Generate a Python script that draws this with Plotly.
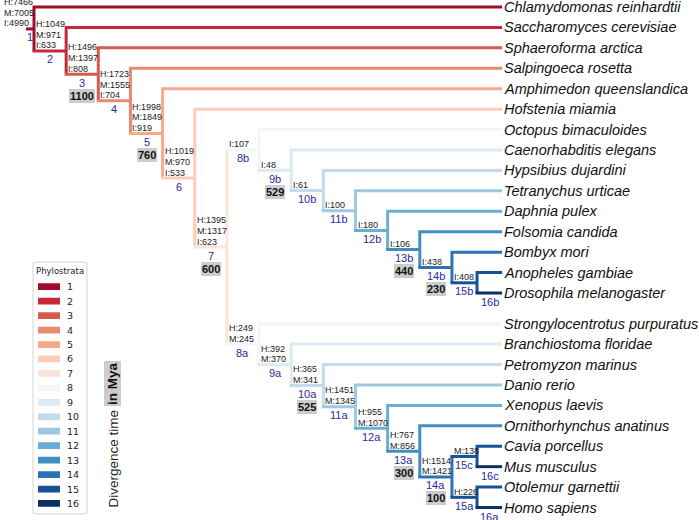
import plotly.graph_objects as go

# ------------------------------------------------------------------ data
tip_names = [
    "Chlamydomonas reinhardtii", "Saccharomyces cerevisiae", "Sphaeroforma arctica",
    "Salpingoeca rosetta", "Amphimedon queenslandica", "Hofstenia miamia",
    "Octopus bimaculoides", "Caenorhabditis elegans", "Hypsibius dujardini",
    "Tetranychus urticae", "Daphnia pulex", "Folsomia candida", "Bombyx mori",
    "Anopheles gambiae", "Drosophila melanogaster",
    "Strongylocentrotus purpuratus", "Branchiostoma floridae", "Petromyzon marinus",
    "Danio rerio", "Xenopus laevis", "Ornithorhynchus anatinus", "Cavia porcellus",
    "Mus musculus", "Otolemur garnettii", "Homo sapiens",
]

node_children = {
    "1": ["Chlamydomonas reinhardtii", "2"],
    "2": ["Saccharomyces cerevisiae", "3"],
    "3": ["Sphaeroforma arctica", "4"],
    "4": ["Salpingoeca rosetta", "5"],
    "5": ["Amphimedon queenslandica", "6"],
    "6": ["Hofstenia miamia", "7"],
    "7": ["8b", "8a"],
    "8b": ["Octopus bimaculoides", "9b"],
    "9b": ["Caenorhabditis elegans", "10b"],
    "10b": ["Hypsibius dujardini", "11b"],
    "11b": ["Tetranychus urticae", "12b"],
    "12b": ["Daphnia pulex", "13b"],
    "13b": ["Folsomia candida", "14b"],
    "14b": ["Bombyx mori", "15b"],
    "15b": ["Anopheles gambiae", "Drosophila melanogaster"],
    "8a": ["Strongylocentrotus purpuratus", "9a"],
    "9a": ["Branchiostoma floridae", "10a"],
    "10a": ["Petromyzon marinus", "11a"],
    "11a": ["Danio rerio", "12a"],
    "12a": ["Xenopus laevis", "13a"],
    "13a": ["Ornithorhynchus anatinus", "14a"],
    "14a": ["15c", "15a"],
    "15c": ["Cavia porcellus", "Mus musculus"],
    "15a": ["Otolemur garnettii", "Homo sapiens"],
}

human_genes = {"1": 7466, "2": 1049, "3": 1496, "4": 1723, "5": 1998, "6": 1019, "7": 1395,
               "8a": 249, "9a": 392, "10a": 365, "11a": 1451, "12a": 955, "13a": 767,
               "14a": 1514, "15a": 226}
mouse_genes = {"1": 7005, "2": 971, "3": 1397, "4": 1555, "5": 1849, "6": 970, "7": 1317,
               "8a": 245, "9a": 370, "10a": 341, "11a": 1345, "12a": 1070, "13a": 856,
               "14a": 1421, "15c": 138}
insect_genes = {"1": 4990, "2": 633, "3": 808, "4": 704, "5": 919, "6": 533, "7": 623,
                "8b": 107, "9b": 48, "10b": 61, "11b": 100, "12b": 180, "13b": 106,
                "14b": 438, "15b": 408}

divergence_mya = {"3": 1100, "5": 760, "7": 600, "9b": 529, "13b": 440, "14b": 230,
                  "10a": 525, "13a": 300, "14a": 100}

leaf_strata = {"Drosophila melanogaster": "16b", "Mus musculus": "16c", "Homo sapiens": "16a"}

phylostrata = list(range(1, 17))
strata_colors = ["#a00d2e", "#c8283a", "#d75a4b", "#ea8a6e", "#f5ab8a", "#fbcdb6",
                 "#fbe5da", "#f3f5f6", "#dde9f3", "#c2dcec", "#9dcae2", "#6aaed6",
                 "#3f8fc5", "#2c73b5", "#175199", "#0b2f63"]

# ------------------------------------------------------------------ layout
W, H = 699, 520
PX_PER_LEVEL = 32.15
X0_PX = 1.85
PX_PER_ROW = 20.43
Y0_PX = 7.0
LW = 3
ROOT_STUB = 0.75
CLADE_GAP_AFTER = "Drosophila melanogaster"
FONT = "Liberation Sans, Arial, sans-serif"


def depth(node):
    return int("".join(ch for ch in node if ch.isdigit()))


def node_x(d):
    return d if d <= 14 else 14 + (d - 14) * 0.78


TIP_X = node_x(16)

ypos, xpos = {}, {}
r = 0.0
for name in tip_names:
    ypos[name] = r
    xpos[name] = TIP_X
    r += 1.5 if name == CLADE_GAP_AFTER else 1.0


def place(n):
    if n in ypos:
        return ypos[n]
    ys = [place(c) for c in node_children[n]]
    ypos[n] = sum(ys) / len(ys)
    return ypos[n]


for n in node_children:
    place(n)
    xpos[n] = node_x(depth(n))
parent = {c: p for p, cs in node_children.items() for c in cs}

ext = (LW / 2) / PX_PER_LEVEL
segs = {i: ([], []) for i in range(16)}


def add(ci, pts):
    xs, ys = segs[ci]
    for x, y in pts:
        xs.append(x)
        ys.append(y)
    xs.append(None)
    ys.append(None)


for n, cs in node_children.items():
    ci = depth(n) - 1
    top, bot = cs[0], cs[-1]
    pts = []
    if top in tip_names and top not in leaf_strata:
        pts.append((TIP_X, ypos[top]))
    pts += [(xpos[n], ypos[top]), (xpos[n], ypos[bot])]
    if bot in tip_names and bot not in leaf_strata:
        pts.append((TIP_X, ypos[bot]))
    add(ci, pts)
    for c in cs:
        if c in leaf_strata:
            add(depth(leaf_strata[c]) - 1, [(xpos[n] - ext, ypos[c]), (TIP_X, ypos[c])])
    x_start = xpos[parent[n]] - ext if n in parent else ROOT_STUB
    add(ci, [(x_start, ypos[n]), (xpos[n], ypos[n])])

fig = go.Figure()
for i in range(16):
    xs, ys = segs[i]
    if xs:
        fig.add_trace(go.Scatter(x=xs, y=ys, mode="lines", hoverinfo="skip",
                                 line=dict(color=strata_colors[i], width=LW),
                                 showlegend=False, xaxis="x", yaxis="y"))

ann = []


def A(**kw):
    kw.setdefault("showarrow", False)
    ann.append(kw)


# tip names
for t in tip_names:
    A(x=TIP_X, y=ypos[t], xref="x", yref="y", text=f"<i>{t}</i>", xanchor="left",
      yanchor="middle", font=dict(family=FONT, size=14.5, color="#111111"))

# gene counts, node labels, divergence boxes
for n in node_children:
    lines = []
    if n in human_genes:
        lines.append(f"H:{human_genes[n]}")
    if n in mouse_genes:
        lines.append(f"M:{mouse_genes[n]}")
    if n in insect_genes:
        lines.append(f"I:{insect_genes[n]}")
    xa = xpos[parent[n]] if n in parent else 0.0
    for j, txt in enumerate(reversed(lines)):
        A(x=xa, y=ypos[n], xref="x", yref="y", text=txt, xanchor="left", yanchor="middle",
          yshift=5.5 + 10.7 * j, font=dict(family=FONT, size=9, color="#222222"))
    x0 = xpos[parent[n]] if n in parent else ROOT_STUB
    xm = (x0 + xpos[n]) / 2
    A(x=xm, y=ypos[n], xref="x", yref="y", text=n, xanchor="center", yanchor="middle",
      yshift=-8.5, font=dict(family=FONT, size=11, color="#2a2a9e"))
    if n in divergence_mya:
        A(x=xm, y=ypos[n], xref="x", yref="y", text=f"<b>{divergence_mya[n]}</b>",
          xanchor="center", yanchor="middle", yshift=-21.5, bgcolor="#cccccc",
          borderpad=1, borderwidth=0, font=dict(family=FONT, size=11, color="#111111"))

for leaf, lab in leaf_strata.items():
    xm = (xpos[parent[leaf]] + TIP_X) / 2
    A(x=xm, y=ypos[leaf], xref="x", yref="y", text=lab, xanchor="center", yanchor="middle",
      yshift=-9, font=dict(family=FONT, size=11, color="#2a2a9e"))

# axis label
A(x=112.5 / W, y=1 - 510 / H, xref="paper", yref="paper", text="Divergence time",
  textangle=-90, xanchor="center", yanchor="bottom",
  font=dict(family=FONT, size=13.5, color="#222222"))
A(x=112.5 / W, y=1 - 406 / H, xref="paper", yref="paper", text="<b>in Mya</b>",
  textangle=-90, xanchor="center", yanchor="bottom", bgcolor="#cccccc", borderpad=1,
  borderwidth=0, font=dict(family=FONT, size=13.5, color="#111111"))

# legend (inset axes)
fig.add_trace(go.Bar(y=phylostrata, x=[1] * len(phylostrata), orientation="h",
                     marker=dict(color=strata_colors, line=dict(width=0)), width=0.47,
                     xaxis="x2", yaxis="y2", showlegend=False, hoverinfo="skip"))
for s in phylostrata:
    A(x=1, y=s, xref="x2", yref="y2", text=str(s), xanchor="left", yanchor="middle", xshift=5,
      font=dict(family="DejaVu Sans", size=9.5, color="#222222"))
A(x=60 / W, y=1 - 271 / H, xref="paper", yref="paper", text="Phylostrata",
  xanchor="center", yanchor="middle", font=dict(family="DejaVu Sans", size=8.5, color="#222222"))

# rounded legend frame
lx0, lx1, ly0, ly1, rad = 33, 87, 262, 514, 3


def P(x, y):
    return f"{x / W:.5f},{1 - y / H:.5f}"


frame = (f"M{P(lx0 + rad, ly0)} L{P(lx1 - rad, ly0)} Q{P(lx1, ly0)} {P(lx1, ly0 + rad)} "
         f"L{P(lx1, ly1 - rad)} Q{P(lx1, ly1)} {P(lx1 - rad, ly1)} L{P(lx0 + rad, ly1)} "
         f"Q{P(lx0, ly1)} {P(lx0, ly1 - rad)} L{P(lx0, ly0 + rad)} Q{P(lx0, ly0)} {P(lx0 + rad, ly0)} Z")

x_lo = (0 - X0_PX) / PX_PER_LEVEL
x_hi = (W - X0_PX) / PX_PER_LEVEL
y_top = (0 - Y0_PX) / PX_PER_ROW
y_bot = (H - Y0_PX) / PX_PER_ROW

fig.update_layout(
    width=W, height=H, margin=dict(l=0, r=0, t=0, b=0),
    paper_bgcolor="white", plot_bgcolor="rgba(0,0,0,0)",
    xaxis=dict(range=[x_lo, x_hi], domain=[0, 1], visible=False, fixedrange=True),
    yaxis=dict(range=[y_bot, y_top], domain=[0, 1], visible=False, fixedrange=True),
    xaxis2=dict(range=[0, 1], domain=[38 / W, 60 / W], visible=False, anchor="y2",
                fixedrange=True),
    yaxis2=dict(range=[16.5, 0.5], domain=[1 - 510.7 / H, 1 - 279.5 / H],
                visible=False, anchor="x2", type="linear", fixedrange=True),
    annotations=ann,
    shapes=[dict(type="path", path=frame, xref="paper", yref="paper",
                 line=dict(color="#d4d4d4", width=1), fillcolor="rgba(255,255,255,0.85)",
                 layer="below")],
    showlegend=False,
)

fig.write_html("out.html", config={"displayModeBar": False},
               post_script="document.body.style.margin='0';document.body.style.overflow='hidden';")
